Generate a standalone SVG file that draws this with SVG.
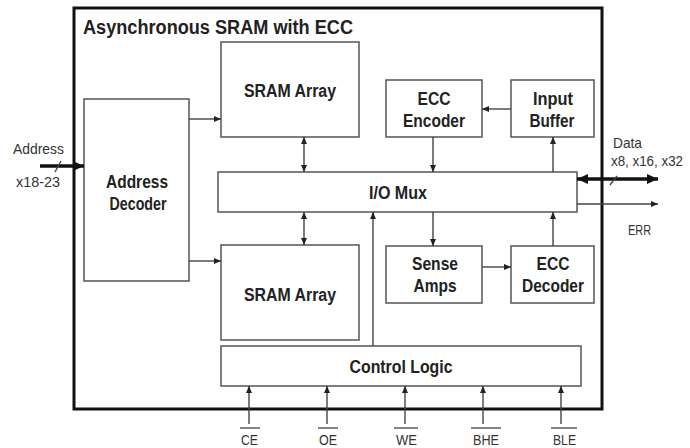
<svg xmlns="http://www.w3.org/2000/svg" width="690" height="448" viewBox="0 0 690 448">
<defs>
<style>
.box{fill:#fff;stroke:#555;stroke-width:1.5}
.outer{fill:#fff;stroke:#111;stroke-width:3}
.b{font-family:"Liberation Sans",Arial,sans-serif;font-weight:bold;fill:#222;text-anchor:middle}
.n{font-family:"Liberation Sans",Arial,sans-serif;fill:#333;font-size:15px}
.w{stroke:#444;stroke-width:1.4;fill:none}
.t{stroke:#111;stroke-width:3.5;fill:none}
</style>
<marker id="ah" markerWidth="8" markerHeight="8" refX="7" refY="4" orient="auto" markerUnits="userSpaceOnUse"><path d="M0,1 L7,4 L0,7 z" fill="#222"/></marker>
<marker id="as" markerWidth="8" markerHeight="8" refX="1" refY="4" orient="auto" markerUnits="userSpaceOnUse"><path d="M8,1 L1,4 L8,7 z" fill="#222"/></marker>
<marker id="bh" markerWidth="12" markerHeight="12" refX="11" refY="6" orient="auto" markerUnits="userSpaceOnUse"><path d="M0,1 L11,6 L0,11 z" fill="#111"/></marker>
<marker id="bs" markerWidth="12" markerHeight="12" refX="1" refY="6" orient="auto" markerUnits="userSpaceOnUse"><path d="M12,1 L1,6 L12,11 z" fill="#111"/></marker>
</defs>
<rect x="0" y="0" width="690" height="448" fill="#fff"/>
<g id="chip">
<rect class="outer" x="74" y="8" width="528" height="401"/>
<text class="b" x="218" y="34" font-size="19.5" textLength="270" lengthAdjust="spacingAndGlyphs">Asynchronous SRAM with ECC</text>
</g>
<g id="addr-decoder">
<rect class="box" x="84" y="99" width="105" height="182"/>
<text class="b" x="137" y="188" font-size="18" textLength="62" lengthAdjust="spacingAndGlyphs">Address</text>
<text class="b" x="138" y="210" font-size="18" textLength="57" lengthAdjust="spacingAndGlyphs">Decoder</text>
</g>
<g id="sram-top">
<rect class="box" x="221" y="42" width="138" height="95"/>
<text class="b" x="290" y="97" font-size="18" textLength="92" lengthAdjust="spacingAndGlyphs">SRAM Array</text>
</g>
<g id="sram-bottom">
<rect class="box" x="221" y="245" width="138" height="95"/>
<text class="b" x="290" y="301" font-size="18" textLength="92" lengthAdjust="spacingAndGlyphs">SRAM Array</text>
</g>
<g id="io-mux">
<rect class="box" x="218" y="172" width="359" height="40"/>
<text class="b" x="398" y="199" font-size="18" textLength="58" lengthAdjust="spacingAndGlyphs">I/O Mux</text>
</g>
<g id="control-logic">
<rect class="box" x="221" y="346" width="360" height="40"/>
<text class="b" x="401" y="373" font-size="18" textLength="103" lengthAdjust="spacingAndGlyphs">Control Logic</text>
</g>
<g id="ecc-encoder">
<rect class="box" x="386" y="80" width="96" height="57"/>
<text class="b" x="434" y="105" font-size="18" textLength="33" lengthAdjust="spacingAndGlyphs">ECC</text>
<text class="b" x="434" y="127" font-size="18" textLength="62" lengthAdjust="spacingAndGlyphs">Encoder</text>
</g>
<g id="input-buffer">
<rect class="box" x="511" y="80" width="83" height="57"/>
<text class="b" x="553" y="105" font-size="18" textLength="40" lengthAdjust="spacingAndGlyphs">Input</text>
<text class="b" x="552" y="127" font-size="18" textLength="45" lengthAdjust="spacingAndGlyphs">Buffer</text>
</g>
<g id="sense-amps">
<rect class="box" x="386" y="246" width="96" height="57"/>
<text class="b" x="435" y="270" font-size="18" textLength="46" lengthAdjust="spacingAndGlyphs">Sense</text>
<text class="b" x="435" y="292" font-size="18" textLength="43" lengthAdjust="spacingAndGlyphs">Amps</text>
</g>
<g id="ecc-decoder">
<rect class="box" x="511" y="246" width="83" height="57"/>
<text class="b" x="553" y="270" font-size="18" textLength="33" lengthAdjust="spacingAndGlyphs">ECC</text>
<text class="b" x="553" y="292" font-size="18" textLength="62" lengthAdjust="spacingAndGlyphs">Decoder</text>
</g>
<g id="connectors">
<line class="t" x1="40" y1="166" x2="84" y2="166" marker-end="url(#bh)"/>
<line class="w" x1="55" y1="172" x2="61" y2="161"/>
<line class="w" x1="189" y1="119" x2="221" y2="119" marker-end="url(#ah)"/>
<line class="w" x1="189" y1="261" x2="221" y2="261" marker-end="url(#ah)"/>
<line class="w" x1="304" y1="137" x2="304" y2="172" marker-start="url(#as)" marker-end="url(#ah)"/>
<line class="w" x1="304" y1="212" x2="304" y2="245" marker-start="url(#as)" marker-end="url(#ah)"/>
<line class="w" x1="373" y1="346" x2="373" y2="212" marker-end="url(#ah)"/>
<line class="w" x1="433" y1="137" x2="433" y2="172" marker-end="url(#ah)"/>
<line class="w" x1="553" y1="172" x2="553" y2="137" marker-end="url(#ah)"/>
<line class="w" x1="511" y1="109" x2="482" y2="109" marker-end="url(#ah)"/>
<line class="w" x1="433" y1="212" x2="433" y2="246" marker-end="url(#ah)"/>
<line class="w" x1="482" y1="267" x2="511" y2="267" marker-end="url(#ah)"/>
<line class="w" x1="553" y1="246" x2="553" y2="212" marker-end="url(#ah)"/>
<line class="t" x1="577" y1="179" x2="658" y2="179" marker-start="url(#bs)" marker-end="url(#bh)"/>
<line class="w" x1="610" y1="185" x2="617" y2="176"/>
<line class="w" x1="577" y1="204" x2="658" y2="204" marker-end="url(#ah)"/>
<line class="w" x1="249" y1="424" x2="249" y2="386" marker-end="url(#ah)"/>
<line class="w" x1="327" y1="424" x2="327" y2="386" marker-end="url(#ah)"/>
<line class="w" x1="405" y1="424" x2="405" y2="386" marker-end="url(#ah)"/>
<line class="w" x1="483" y1="424" x2="483" y2="386" marker-end="url(#ah)"/>
<line class="w" x1="561" y1="424" x2="561" y2="386" marker-end="url(#ah)"/>
</g>
<g id="labels">
<text class="n" x="13" y="154" textLength="51" lengthAdjust="spacingAndGlyphs">Address</text>
<text class="n" x="16" y="187" textLength="44" lengthAdjust="spacingAndGlyphs">x18-23</text>
<text class="n" x="613" y="148" textLength="29" lengthAdjust="spacingAndGlyphs">Data</text>
<text class="n" x="611" y="166" font-size="14" style="font-size:14px" textLength="72" lengthAdjust="spacingAndGlyphs">x8, x16, x32</text>
<text class="n" x="628" y="235" textLength="23" lengthAdjust="spacingAndGlyphs">ERR</text>
<text class="n" x="241" y="445" textLength="17" lengthAdjust="spacingAndGlyphs">CE</text>
<text class="n" x="319" y="445" textLength="18" lengthAdjust="spacingAndGlyphs">OE</text>
<text class="n" x="396" y="445" textLength="21" lengthAdjust="spacingAndGlyphs">WE</text>
<text class="n" x="473" y="445" textLength="26" lengthAdjust="spacingAndGlyphs">BHE</text>
<text class="n" x="553" y="445" textLength="23" lengthAdjust="spacingAndGlyphs">BLE</text>
<g stroke="#333" stroke-width="1.2">
<line x1="240" y1="428" x2="260" y2="428"/>
<line x1="318" y1="428" x2="338" y2="428"/>
<line x1="394" y1="428" x2="418" y2="428"/>
<line x1="471" y1="428" x2="501" y2="428"/>
<line x1="551" y1="428" x2="577" y2="428"/>
</g>
</g>
</svg>
